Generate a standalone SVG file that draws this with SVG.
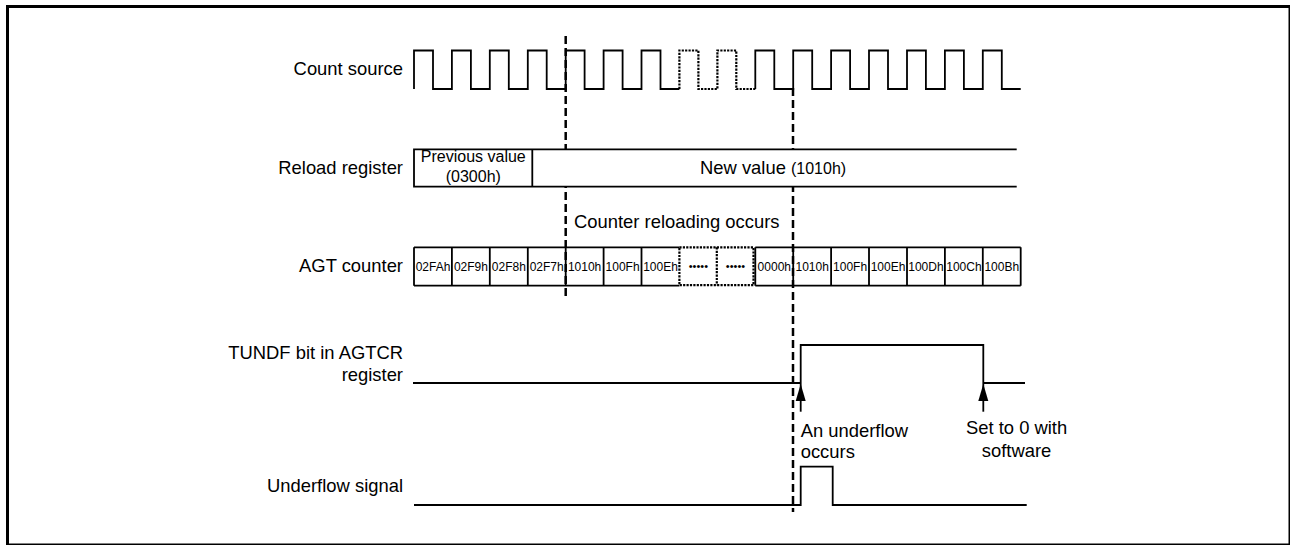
<svg xmlns="http://www.w3.org/2000/svg" width="1290" height="545" viewBox="0 0 1290 545">
<style>
text{font-family:"Liberation Sans",Arial,sans-serif;fill:#000}
.lbl{font-size:18.4px;text-anchor:end}
.big{font-size:18.4px}
.mid{font-size:16px}
.cell{font-size:12px;text-anchor:middle}
.dots{font-size:11px;text-anchor:middle}
.w{fill:none;stroke:#000;stroke-width:1.8}
.dot{fill:none;stroke:#000;stroke-width:2.2;stroke-dasharray:2.2 1.2}
.dash{fill:none;stroke:#000;stroke-width:2.5;stroke-dasharray:8 4}
</style>
<defs>
<marker id="ah" viewBox="0 0 17 11" refX="17" refY="5.5" markerWidth="17" markerHeight="11" markerUnits="userSpaceOnUse" orient="auto">
<path d="M17,5.5 L0,0.5 L0,10.5 Z" fill="#000"/>
</marker>
</defs>
<rect x="7.5" y="6.5" width="1282.5" height="538.5" fill="#fff" stroke="#000" stroke-width="3"/>

<g id="connectors">
<line class="dash" x1="565.7" y1="36" x2="565.7" y2="300"/>
<line class="dash" x1="793" y1="88" x2="793" y2="512"/>
<line x1="800.7" y1="411.7" x2="800.7" y2="384" stroke="#000" stroke-width="1.8" marker-end="url(#ah)"/>
<line x1="983.3" y1="411.7" x2="983.3" y2="384" stroke="#000" stroke-width="1.8" marker-end="url(#ah)"/>
</g>

<g id="count-source">
<text class="lbl" x="403" y="75">Count source</text>
<path class="w" d="M414,89 V50.5 H433 V89 H451.9 V50.5 H470.9 V89 H489.8 V50.5 H508.8 V89 H527.8 V50.5 H546.7 V89 H565.7 V50.5 H584.6 V89 H603.6 V50.5 H622.6 V89 H641.5 V50.5 H660.5 V89 H679.4"/>
<path class="dot" d="M679.4,89 V50.5 H698.4 V89 H717.4 V50.5 H736.3 V89 H755.3"/>
<path class="w" d="M755.3,89 V50.5 H774.3 V89 H793.2 V50.5 H812.2 V89 H831.1 V50.5 H850.1 V89 H869 V50.5 H888 V89 H907 V50.5 H925.9 V89 H944.9 V50.5 H963.9 V89 H982.8 V50.5 H1001.8 V89 H1020.7"/>
</g>

<g id="reload-register">
<text class="lbl" x="403" y="174.3">Reload register</text>
<rect x="414" y="149.3" width="602.7" height="37.4" fill="#fff"/>
<path class="w" d="M1016.7,149.3 H414 V186.7 H1016.7 M532.3,149.3 V186.7"/>
<text class="mid" x="473.3" y="161.7" text-anchor="middle">Previous value</text>
<text class="mid" x="473.3" y="182.3" text-anchor="middle">(0300h)</text>
<text class="big" x="700" y="173.5">New value <tspan class="mid">(1010h)</tspan></text>
</g>

<g id="reload-note">
<text class="big" x="574" y="228.3">Counter reloading occurs</text>
</g>

<g id="agt-counter">
<text class="lbl" x="403" y="271.7">AGT counter</text>
<path class="w" d="M414,247.3 H679.4 M414,285.7 H679.4 M755.3,247.3 H1020.7 M755.3,285.7 H1020.7 M414,247.3 V285.7 M451.9,247.3 V285.7 M489.8,247.3 V285.7 M527.8,247.3 V285.7 M565.7,247.3 V285.7 M603.6,247.3 V285.7 M641.5,247.3 V285.7 M755.3,247.3 V285.7 M793.2,247.3 V285.7 M831.1,247.3 V285.7 M869,247.3 V285.7 M907,247.3 V285.7 M944.9,247.3 V285.7 M982.8,247.3 V285.7 M1020.7,247.3 V285.7"/>
<path class="dot" d="M679.4,247.3 H753.5 V285.2 H679.4 Z M716.8,247.3 V285.2"/>
<text class="cell" x="433" y="270.8">02FAh</text>
<text class="cell" x="470.9" y="270.8">02F9h</text>
<text class="cell" x="508.8" y="270.8">02F8h</text>
<text class="cell" x="546.7" y="270.8">02F7h</text>
<text class="cell" x="584.6" y="270.8">1010h</text>
<text class="cell" x="622.6" y="270.8">100Fh</text>
<text class="cell" x="660.5" y="270.8">100Eh</text>
<text class="dots" x="698.4" y="269.5">•••••</text>
<text class="dots" x="735.5" y="269.5">•••••</text>
<text class="cell" x="774.3" y="270.8">0000h</text>
<text class="cell" x="812.2" y="270.8">1010h</text>
<text class="cell" x="850.1" y="270.8">100Fh</text>
<text class="cell" x="888" y="270.8">100Eh</text>
<text class="cell" x="925.9" y="270.8">100Dh</text>
<text class="cell" x="963.9" y="270.8">100Ch</text>
<text class="cell" x="1001.8" y="270.8">100Bh</text>
</g>

<g id="tundf">
<text class="lbl" x="403" y="359.3">TUNDF bit in AGTCR</text>
<text class="lbl" x="403" y="381">register</text>
<path class="w" d="M413,383 H800.7 V345 H983.3 V383 H1025"/>
</g>

<g id="underflow-note">
<text class="big" x="800.7" y="436.7">An underflow</text>
<text class="big" x="800.7" y="458">occurs</text>
</g>

<g id="software-note">
<text class="big" x="1016.6" y="434.3" text-anchor="middle">Set to 0 with</text>
<text class="big" x="1016.6" y="456.7" text-anchor="middle">software</text>
</g>

<g id="underflow-signal">
<text class="lbl" x="403" y="491.7">Underflow signal</text>
<path class="w" d="M414,505 H800.7 V466.7 H832.7 V505 H1026.7"/>
</g>
</svg>
